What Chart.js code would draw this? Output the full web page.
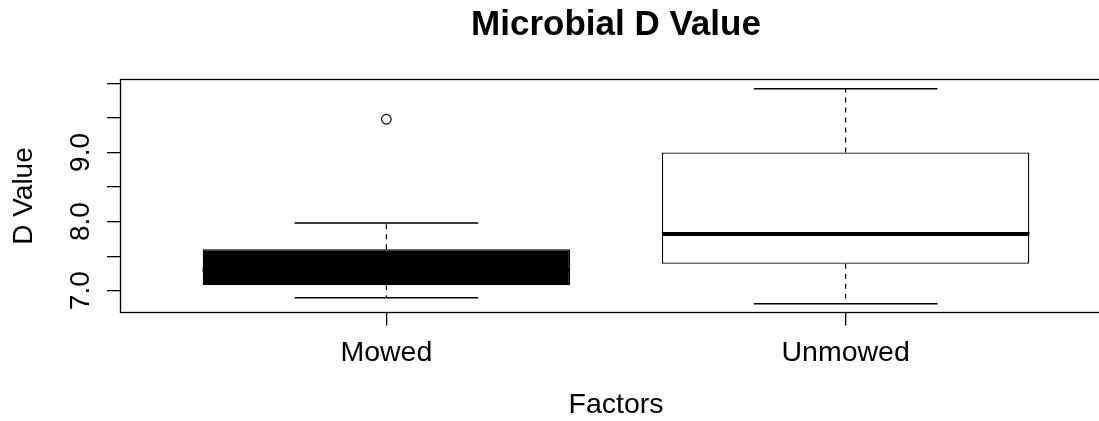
<!DOCTYPE html>
<html>
<head>
<meta charset="utf-8">
<script src="https://cdn.jsdelivr.net/npm/chart.js@4.4.1/dist/chart.umd.min.js"></script>
<style>
  html, body { margin: 0; padding: 0; background: #fff; overflow: hidden; }
  #wrap { width: 1118px; height: 421px; }
</style>
</head>
<body>
<div id="wrap"><canvas id="grafico"></canvas></div>
<script>
// datos
const categorias = ["Mowed", "Unmowed"];
const bigoteBajo = [6.90, 6.81];
const q1 = [7.08, 7.39];
const mediana = [7.30, 7.82];
const q3 = [7.60, 9.00];
const bigoteAlto = [7.98, 9.92];
const atipicos = [[9.48], []];
const relleno = ["#000000", "#ffffff"];
const anchoCaja = 0.8;   // en unidades del eje x
const anchoTope = 0.4;

const yTicks = [7.0, 7.5, 8.0, 8.5, 9.0, 9.5, 10.0];
const yEtiquetas = ["7.0", "", "8.0", "", "9.0", "", ""];

const fuente = "'Liberation Sans', Arial, Helvetica, sans-serif";

// construir datasets
const cajas = categorias.map((c, i) => ({
  type: "bar",
  label: c,
  data: [{ x: i + 1, y: [q1[i], q3[i]] }],
  backgroundColor: relleno[i],
  borderColor: "#000",
  borderWidth: 1.3,
  borderSkipped: false,
  grouped: false,
  categoryPercentage: 1,
  barPercentage: anchoCaja,
  order: 3
}));

const bigotes = [];
const topes = [];
const medianas = [];
categorias.forEach((c, i) => {
  const x = i + 1;
  bigotes.push({ x, y: q3[i] }, { x, y: bigoteAlto[i] }, { x, y: null },
               { x, y: q1[i] }, { x, y: bigoteBajo[i] }, { x, y: null });
  topes.push({ x: x - anchoTope / 2, y: bigoteAlto[i] }, { x: x + anchoTope / 2, y: bigoteAlto[i] }, { x, y: null },
             { x: x - anchoTope / 2, y: bigoteBajo[i] }, { x: x + anchoTope / 2, y: bigoteBajo[i] }, { x, y: null });
  medianas.push({ x: x - anchoCaja / 2, y: mediana[i] }, { x: x + anchoCaja / 2, y: mediana[i] }, { x, y: null });
});

const puntos = [];
atipicos.forEach((lista, i) => lista.forEach(v => puntos.push({ x: i + 1, y: v })));

const marco = {
  id: "marco",
  afterDraw(chart) {
    const { ctx, chartArea: a, scales } = chart;
    ctx.save();
    ctx.strokeStyle = "#000";
    ctx.lineWidth = 1.3;
    ctx.strokeRect(a.left + 0.5, a.top, a.right - a.left, a.bottom - a.top);
    ctx.fillStyle = "#000";
    ctx.font = "28px " + fuente;
    ctx.textAlign = "center";
    ctx.textBaseline = "alphabetic";
    yTicks.forEach((v, i) => {
      if (!yEtiquetas[i]) return;
      const y = scales.y.getPixelForValue(v);
      ctx.save();
      ctx.translate(89, y);
      ctx.rotate(-Math.PI / 2);
      ctx.fillText(yEtiquetas[i], 0, 0);
      ctx.restore();
    });
    ctx.restore();
  }
};

new Chart(document.getElementById("grafico"), {
  type: "bar",
  data: {
    datasets: [
      ...cajas,
      {
        type: "line", label: "bigotes", data: bigotes,
        borderColor: "#000", borderWidth: 1.2, borderDash: [5, 5],
        pointRadius: 0, spanGaps: false, order: 4
      },
      {
        type: "line", label: "topes", data: topes,
        borderColor: "#000", borderWidth: 1.5,
        pointRadius: 0, spanGaps: false, order: 2
      },
      {
        type: "line", label: "medianas", data: medianas,
        borderColor: "#000", borderWidth: 4,
        pointRadius: 0, spanGaps: false, order: 1
      },
      {
        type: "scatter", label: "atipicos", data: puntos,
        pointStyle: "circle", pointRadius: 4.8,
        borderColor: "#000", backgroundColor: "#fff", borderWidth: 1.2, order: 0
      }
    ]
  },
  options: {
    responsive: true,
    maintainAspectRatio: false,
    animation: false,
    layout: { padding: 0 },
    plugins: {
      legend: { display: false },
      tooltip: { enabled: false },
      title: {
        display: true,
        text: "Microbial D Value",
        fullSize: false,
        color: "#000",
        font: { family: fuente, size: 35, weight: "bold", lineHeight: 1 },
        padding: { top: 8, bottom: 36.5 }
      }
    },
    scales: {
      x: {
        type: "linear",
        offset: false,
        min: 0.42,
        max: 2.58,
        afterBuildTicks: s => { s.ticks = categorias.map((c, i) => ({ value: i + 1 })); },
        afterFit: s => { s.height = 108.5; },
        ticks: {
          autoSkip: false, maxRotation: 0, minRotation: 0,
          color: "#000", padding: 11,
          font: { family: fuente, size: 28.5 },
          callback: (v, i) => categorias[i]
        },
        grid: { offset: false, drawOnChartArea: false, drawTicks: true, tickLength: 13, color: "#000", lineWidth: 1.3 },
        border: { display: false },
        title: {
          display: true, text: "Factors", color: "#000",
          font: { family: fuente, size: 28.5, lineHeight: 1 },
          padding: { top: 0, bottom: 2 }
        }
      },
      y: {
        type: "linear",
        min: 6.685,
        max: 10.055,
        afterBuildTicks: s => { s.ticks = yTicks.map(v => ({ value: v })); },
        afterFit: s => { s.width = 120; },
        ticks: { display: false },
        grid: { drawOnChartArea: false, drawTicks: true, tickLength: 13, color: "#000", lineWidth: 1.3 },
        border: { display: false },
        title: {
          display: true, text: "D Value", color: "#000",
          font: { family: fuente, size: 28, lineHeight: 1.2 },
          padding: { top: 7, bottom: 0 }
        }
      }
    }
  },
  plugins: [marco]
});
</script>
</body>
</html>
